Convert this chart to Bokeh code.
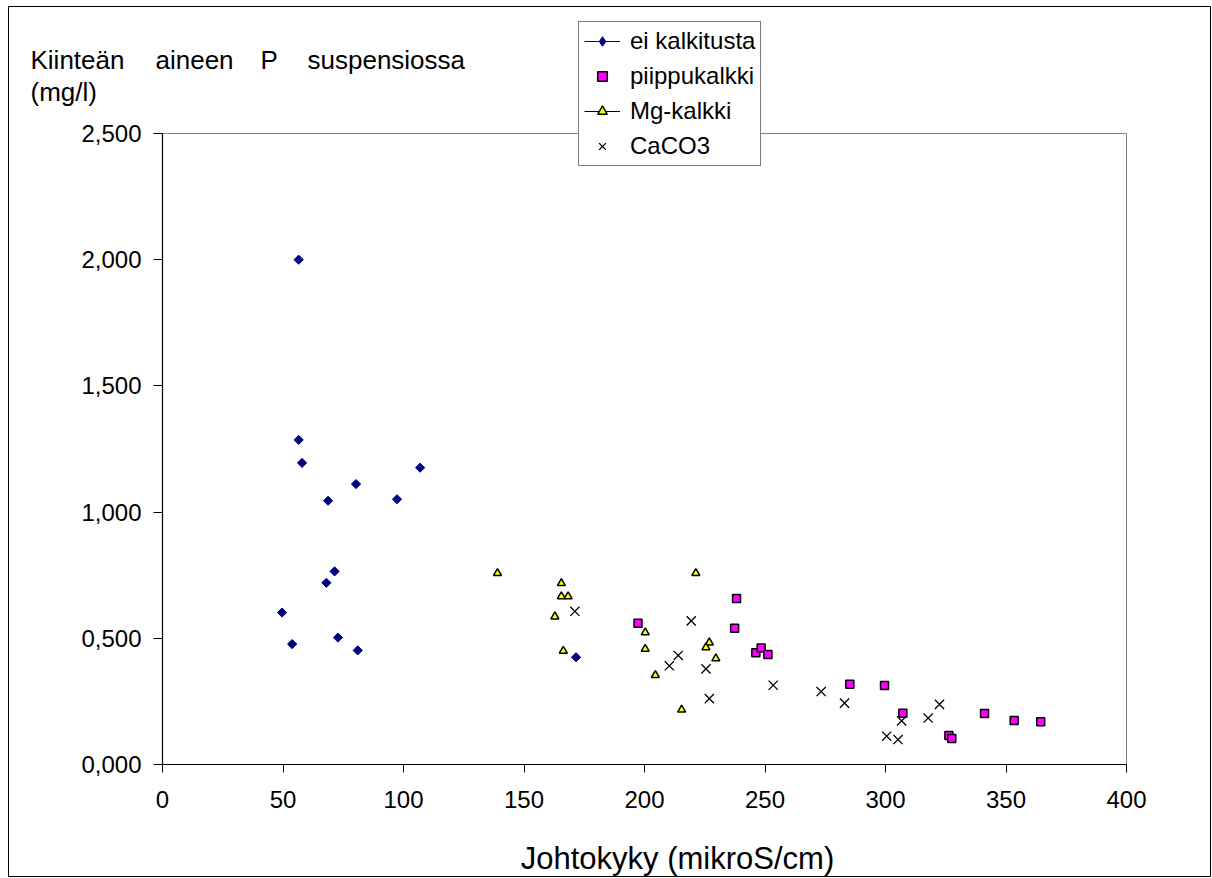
from bokeh.plotting import figure
from bokeh.models import Range1d, FixedTicker, Legend, LegendItem, Label
from bokeh.embed import file_html
from bokeh.resources import INLINE
import numpy as np

# ---- data ----
ei_x = [56.5, 56.5, 57.9, 68.7, 80.3, 97.3, 106.9, 71.4, 68.0, 49.6, 53.8, 72.8, 81.0, 171.6]
ei_y = [2.000, 1.286, 1.195, 1.045, 1.111, 1.051, 1.176, 0.765, 0.720, 0.602, 0.477, 0.503, 0.452, 0.425]

pii_x = [197.3, 238.2, 237.4, 246.2, 248.4, 251.2, 285.2, 299.6, 307.2, 326.3, 327.5, 341.1, 353.4, 364.4]
pii_y = [0.560, 0.658, 0.540, 0.443, 0.462, 0.436, 0.318, 0.313, 0.203, 0.115, 0.103, 0.202, 0.174, 0.169]

mg_x = [139.0, 165.5, 165.5, 168.3, 162.8, 166.3, 200.3, 200.3, 204.5, 221.3, 226.9, 225.5, 229.6, 215.4]
mg_y = [0.758, 0.718, 0.666, 0.666, 0.586, 0.450, 0.523, 0.458, 0.354, 0.758, 0.483, 0.464, 0.420, 0.217]

ca_x = [171.1, 219.4, 214.0, 210.3, 225.5, 226.9, 253.4, 273.3, 283.0, 300.5, 305.2, 306.7, 317.7, 322.4]
ca_y = [0.607, 0.569, 0.432, 0.391, 0.379, 0.261, 0.314, 0.289, 0.243, 0.112, 0.099, 0.173, 0.184, 0.238]

series_names = ["ei kalkitusta", "piippukalkki", "Mg-kalkki", "CaCO3"]
x_ticks = [0, 50, 100, 150, 200, 250, 300, 350, 400]
y_ticks = [0, 0.5, 1.0, 1.5, 2.0, 2.5]
y_tick_labels = ["0,000", "0,500", "1,000", "1,500", "2,000", "2,500"]
x_title = "Johtokyky (mikroS/cm)"
y_title_words = ["Kiinteän", "aineen", "P", "suspensiossa"]
y_title_line2 = "(mg/l)"

FONT = "Liberation Sans"
W, H = 1212, 878
L, R, T, B = 162, 1126, 133, 764

# ---------------- main plot ----------------
p = figure(width=W, height=H, output_backend="svg", toolbar_location=None,
           x_range=Range1d(0, 400), y_range=Range1d(0, 2.5),
           min_border_left=L, min_border_right=W - R,
           min_border_top=T, min_border_bottom=H - B)
p.xgrid.visible = False
p.ygrid.visible = False
p.outline_line_color = "#808080"
p.outline_line_width = 1
p.background_fill_color = "white"
p.border_fill_color = "white"

for ax in (p.xaxis[0], p.yaxis[0]):
    ax.axis_line_color = "black"
    ax.axis_line_width = 1.2
    ax.major_tick_line_color = "black"
    ax.major_tick_in = 0
    ax.minor_tick_line_color = None
    ax.major_label_text_font = FONT
    ax.major_label_text_font_size = "24px"
    ax.major_label_text_color = "black"

p.xaxis[0].ticker = FixedTicker(ticks=x_ticks)
p.xaxis[0].major_tick_out = 8
p.xaxis[0].major_label_standoff = 18
p.yaxis[0].ticker = FixedTicker(ticks=y_ticks)
p.yaxis[0].major_tick_out = 9
p.yaxis[0].major_label_standoff = 12
p.yaxis[0].major_label_overrides = {t: s for t, s in zip(y_ticks, y_tick_labels)}

ei_style = dict(marker="square", angle=np.pi / 4, size=6.5,
                fill_color="#000080", line_color="#000080", line_width=1)
pii_style = dict(marker="square", size=8, fill_color="#FF00FF",
                 line_color="black", line_width=1.5)
mg_style = dict(marker="triangle", size=8, fill_color="#FFFF00",
                line_color="black", line_width=1.5)
ca_style = dict(marker="x", size=13, line_color="black", line_width=1.3)

p.scatter(ei_x, ei_y, **ei_style)
p.scatter(pii_x, pii_y, **pii_style)
p.scatter(mg_x, mg_y, **mg_style)
p.scatter(ca_x, ca_y, **ca_style)

# ---------------- overlay (titles, legend, chart border) ----------------
ov = figure(width=W, height=H, output_backend="svg", toolbar_location=None,
            x_range=Range1d(0, W), y_range=Range1d(H, 0),
            x_axis_location=None, y_axis_location=None,
            min_border=0, min_border_left=0, min_border_right=0,
            min_border_top=0, min_border_bottom=0)
ov.xgrid.visible = False
ov.ygrid.visible = False
ov.outline_line_color = None
ov.background_fill_alpha = 0
ov.border_fill_alpha = 0
ov.styles = {"position": "absolute", "left": "0px", "top": "0px",
             "pointer-events": "none"}

# chart-area border
ov.quad(left=[8], right=[1210], top=[6], bottom=[876],
        fill_alpha=0, line_color="black", line_width=1)

# legend proxies (one NaN point each, so nothing is drawn in the plot)
nan = [float("nan")]
l_ei = ov.line(x=nan, y=nan, line_color="#000080", line_width=1.2)
s_ei = ov.scatter(x=nan, y=nan, marker="diamond", size=8,
                  fill_color="#000080", line_color="#000080", line_width=1)
s_pii = ov.scatter(x=nan, y=nan, **pii_style)
l_mg = ov.line(x=nan, y=nan, line_color="black", line_width=1.2)
s_mg = ov.scatter(x=nan, y=nan, **mg_style)
s_ca = ov.scatter(x=nan, y=nan, **ca_style)

legend = Legend(items=[
    LegendItem(label=series_names[0], renderers=[l_ei, s_ei]),
    LegendItem(label=series_names[1], renderers=[s_pii]),
    LegendItem(label=series_names[2], renderers=[l_mg, s_mg]),
    LegendItem(label=series_names[3], renderers=[s_ca]),
])
legend.location = (578, H - 166)
legend.border_line_color = "black"
legend.border_line_width = 1
legend.background_fill_color = "white"
legend.background_fill_alpha = 1
legend.label_text_font = FONT
legend.label_text_font_size = "24px"
legend.label_text_color = "black"
legend.glyph_width = 36
legend.glyph_height = 24
legend.label_height = 28
legend.spacing = 7
legend.padding = 5
legend.margin = 0
legend.label_standoff = 10
ov.add_layout(legend)

# axis titles
ov.add_layout(Label(x=677, y=858, text=x_title, text_align="center",
                    text_baseline="alphabetic", text_font=FONT,
                    text_font_size="31px", text_color="black"))
for w, px in zip(y_title_words, [30, 155, 260, 307]):
    ov.add_layout(Label(x=px, y=59, text=w, text_align="left",
                        text_baseline="alphabetic", text_font=FONT,
                        text_font_size="26px", text_color="black"))
ov.add_layout(Label(x=30, y=91, text=y_title_line2, text_align="left",
                    text_baseline="alphabetic", text_font=FONT,
                    text_font_size="26px", text_color="black"))

open("out.html", "w").write(file_html([p, ov], INLINE))
